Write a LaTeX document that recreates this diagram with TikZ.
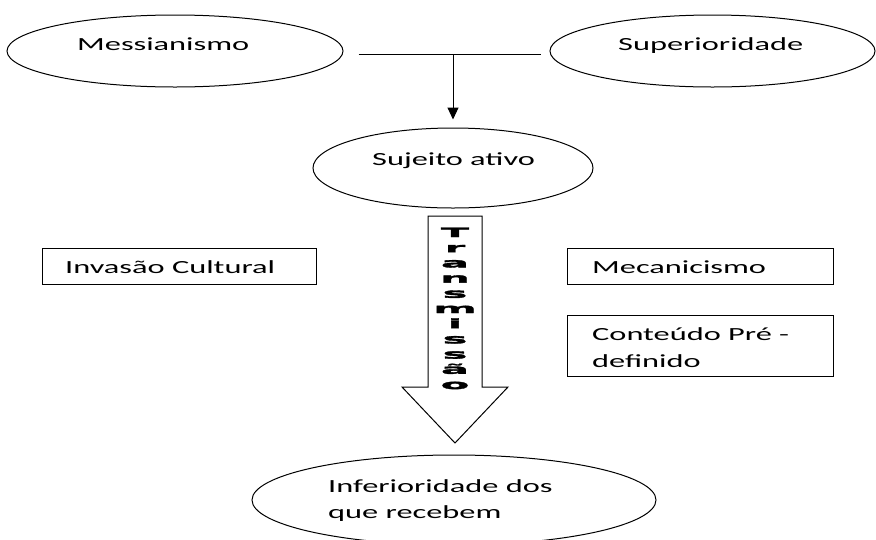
\documentclass[tikz,border=0pt]{standalone}
\usepackage{fontspec}
\setmainfont{Carlito}
\newfontfamily\wordfont[FakeStretch=1.75]{Carlito}
\newfontfamily\arrowfont[FakeStretch=3.2,FakeBold=2.5,
  BoldFeatures={FakeStretch=3.2,FakeBold=2.5}]{DejaVu Sans}
\usetikzlibrary{arrows.meta,shapes.geometric}
\tikzset{
  oval/.style={draw, ellipse, line width=1pt, inner sep=0pt},
  labelbox/.style={draw, rectangle, line width=1pt, inner sep=0pt, anchor=north west},
  wordtxt/.style={anchor=base west, inner sep=0pt, font=\wordfont\fontsize{18.5}{26}\selectfont},
  arrtxt/.style={anchor=base, inner sep=0pt, font=\arrowfont\bfseries\fontsize{13}{15}\selectfont}
}
\begin{document}
\begin{tikzpicture}[x=1pt,y=-1pt]
	\useasboundingbox (0,0) rectangle (876,539);
	% ellipses
	\node[oval, minimum width=336pt, minimum height=72pt] (mess) at (175,51) {};
	\node[oval, minimum width=325pt, minimum height=72pt] (sup) at (712.5,51) {};
	\node[oval, minimum width=280pt, minimum height=80pt] (suj) at (453,168) {};
	\node[oval, minimum width=404pt, minimum height=90pt] (inf) at (454,500) {};
	% boxes
	\node[labelbox, minimum width=274pt, minimum height=36pt] (invasao) at (42,248) {};
	\node[labelbox, minimum width=266pt, minimum height=36pt] (mecan) at (567,248) {};
	\node[labelbox, minimum width=266pt, minimum height=61pt] (conteudo) at (567,315) {};
	% texts
	\node[wordtxt] (tmess) at (77,50) {Messianismo};
	\node[wordtxt] (tsup) at (618,50) {Superioridade};
	\node[wordtxt] (tsuj) at (372,165) {Sujeito ativo};
	\node[wordtxt] (tinv) at (65,273) {Invasão Cultural};
	\node[wordtxt] (tmec) at (592,273) {Mecanicismo};
	\node[wordtxt] (tcont) at (592,340) {Conteúdo Pré -};
	\node[wordtxt] (tdef) at (592,367) {definido};
	\node[wordtxt] (tinf) at (328,492) {Inferioridade dos};
	\node[wordtxt] (tque) at (328,518) {que recebem};
	% join line and arrow
	\coordinate (jl) at ([xshift=15pt,yshift=-3pt]mess.east);
	\coordinate (jr) at ([xshift=-9pt,yshift=-3pt]sup.west);
	\coordinate (jm) at (suj.north |- jl);
	\draw[line width=1pt] (jl) -- (jr);
	\draw[line width=1pt, -{Triangle[width=11pt,length=12pt]}] (jm) -- ([yshift=8pt]suj.north);
	% big arrow
	\draw[line width=1pt] (428,216) -- (482,216) -- (482,387) -- (508,387) -- (455,443) -- (402,387) -- (428,387) -- cycle;
	\foreach \ch [count=\k from 0] in {T,r,a,n,s,m,i,s,s,ã,o}
		\node[arrtxt] (tr\k) at (455,{237+15.2*\k}) {\ch};
\end{tikzpicture}
\end{document}
